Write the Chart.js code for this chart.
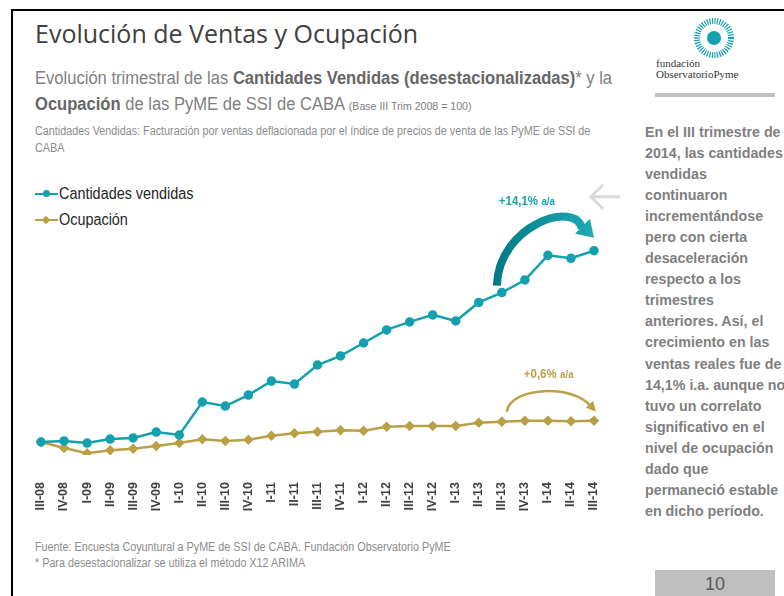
<!DOCTYPE html>
<html>
<head>
<meta charset="utf-8">
<script src="https://cdn.jsdelivr.net/npm/chart.js@4.4.1/dist/chart.umd.min.js"></script>
<style>
  body { margin: 0; width: 784px; height: 596px; overflow: hidden; background: #fff; position: relative; font-family: 'Liberation Sans', Arial, sans-serif; }
  .frame { position: absolute; left: 11px; top: 9px; width: 800px; height: 600px; border-top: 2px solid #000; border-left: 2px solid #000; }
  .n { transform-origin: left top; white-space: nowrap; }
  .title { position: absolute; left: 35px; top: 16px; font-family: 'Open Sans', sans-serif; font-size: 25px; color: #404040; white-space: nowrap; }
  .sub { position: absolute; left: 35px; top: 65px; font-size: 18px; color: #7f7f7f; line-height: 26px; transform: scaleX(0.92); }
  .sub b { color: #666; }
  .sub small { font-size: 11.5px; }
  .note { position: absolute; left: 35px; top: 123px; font-size: 12px; color: #8c8c8c; line-height: 17px; transform: scaleX(0.9); }
  .legend { position: absolute; left: 35px; top: 181px; font-size: 16px; color: #262626; }
  .legend div { height: 26px; display: flex; align-items: center; }
  .legend span { display: inline-block; transform: scaleX(0.9); transform-origin: left center; white-space: nowrap; }
  .legend i { display: inline-block; width: 23px; height: 2.5px; position: relative; margin-right: 1px; }
  .legend i::after { content: ''; position: absolute; left: 8px; top: -3px; width: 7px; height: 7px; border-radius: 50%; background: inherit; }
  .legend i.d::after { border-radius: 0; transform: rotate(45deg); width: 6px; height: 6px; top: -2px; }
  .side { position: absolute; left: 645px; top: 121px; font-size: 15.5px; font-weight: bold; color: #7f7f7f; line-height: 21.05px; transform: scaleX(0.92); }
  .foot { position: absolute; left: 35px; top: 539px; font-size: 12px; color: #8c8c8c; line-height: 16px; transform: scaleX(0.898); }
  .page { position: absolute; left: 655px; top: 570px; width: 120px; height: 30px; background: #bfbfbf; color: #595959; font-size: 18px; text-align: center; line-height: 28px; }
  .logo { position: absolute; left: 650px; top: 18px; width: 130px; height: 80px; }
  .logo .t { position: absolute; left: 6px; top: 40px; font-family: 'Liberation Serif', 'DejaVu Serif', serif; font-size: 11px; color: #333; line-height: 11px; }
  .logo .bar { position: absolute; left: 5px; top: 75px; width: 120px; height: 4px; background: #bfbfbf; }
  #wrap { position: absolute; left: 20px; top: 170px; width: 610px; height: 360px; }
</style>
</head>
<body>
<div class="frame"></div>
<div class="title">Evolución de Ventas y Ocupación</div>
<div class="sub n">Evolución trimestral de las <b>Cantidades Vendidas (desestacionalizadas)</b>* y la<br><b>Ocupación</b> de las PyME de SSI de CABA <small>(Base III Trim 2008 = 100)</small></div>
<div class="note n">Cantidades Vendidas: Facturación por ventas deflacionada por el índice de precios de venta de las PyME de SSI de<br>CABA</div>
<div class="legend">
  <div><i style="background:#14a0ad"></i><span>Cantidades vendidas</span></div>
  <div><i class="d" style="background:#b9a046"></i><span>Ocupación</span></div>
</div>
<div class="logo">
  <svg width="130" height="42" style="position:absolute;left:0;top:0">
    <circle cx="64" cy="20" r="17" fill="none" stroke="#14a0ad" stroke-width="6" stroke-dasharray="1.2 1.3"/>
    <circle cx="64" cy="20" r="7" fill="#14a0ad"/>
  </svg>
  <div class="t">fundación<br>ObservatorioPyme</div>
  <div class="bar"></div>
</div>
<div class="side n">En el III trimestre de<br>2014, las cantidades<br>vendidas<br>continuaron<br>incrementándose<br>pero con cierta<br>desaceleración<br>respecto a los<br>trimestres<br>anteriores. Así, el<br>crecimiento en las<br>ventas reales fue de<br>14,1% i.a. aunque no<br>tuvo un correlato<br>significativo en el<br>nivel de ocupación<br>dado que<br>permaneció estable<br>en dicho período.</div>
<div class="foot n">Fuente: Encuesta Coyuntural a PyME de SSI de CABA. Fundación Observatorio PyME<br>* Para desestacionalizar se utiliza el método X12 ARIMA</div>
<div class="page">10</div>
<div id="wrap"><canvas id="chart"></canvas></div>
<script>
const quarters = ['III-08', 'IV-08', 'I-09', 'II-09', 'III-09', 'IV-09', 'I-10', 'II-10', 'III-10', 'IV-10',
  'I-11', 'II-11', 'III-11', 'IV-11', 'I-12', 'II-12', 'III-12', 'IV-12', 'I-13', 'II-13', 'III-13', 'IV-13',
  'I-14', 'II-14', 'III-14'];
const ventas = [100, 100.7, 99.3, 102.0, 102.7, 106.7, 104.7, 126.9, 124.2, 131.6, 141.0, 139.0, 151.8, 157.9,
  166.6, 175.4, 180.8, 185.5, 181.4, 193.9, 200.5, 209.0, 225.6, 223.6, 228.7];
const ocupacion = [100, 96.0, 92.4, 94.4, 95.5, 97.3, 99.3, 101.8, 100.7, 101.5, 104.2, 105.9, 106.9, 107.9,
  107.6, 110.3, 110.8, 110.8, 110.8, 113.0, 113.7, 114.3, 114.3, 113.9, 114.3];
const teal = '#14a0ad';
const gold = '#b9a046';
const narrow = '"Liberation Sans", Arial, sans-serif';

// texto "+x% a/a" con la parte a/a más chica
function rateLabel(ctx, txt, x, y, color) {
  ctx.fillStyle = color;
  ctx.textAlign = 'left';
  ctx.font = 'bold 13px ' + narrow;
  ctx.save();
  ctx.translate(x, y);
  ctx.scale(0.88, 1);
  ctx.fillText(txt, 0, 0);
  const w = ctx.measureText(txt).width;
  ctx.font = 'bold 11px ' + narrow;
  ctx.fillText('a/a', w + 4, 0);
  ctx.restore();
}

// flechas y etiquetas de variación interanual
const arrows = {
  id: 'arrows',
  afterDatasetsDraw(chart) {
    const { ctx, scales: { x, y } } = chart;
    const x0 = x.getPixelForValue(20), x1 = x.getPixelForValue(24);
    const yv = y.getPixelForValue(ventas[20]);
    const yv1 = y.getPixelForValue(ventas[24]);
    const yo = y.getPixelForValue(ocupacion[24]);
    ctx.save();
    // ventas
    const g = ctx.createLinearGradient(x0 - 8, 0, x1, 0);
    g.addColorStop(0, '#007a84');
    g.addColorStop(1, '#1eaab6');
    ctx.strokeStyle = g;
    ctx.fillStyle = g;
    ctx.lineWidth = 8;
    ctx.beginPath();
    ctx.moveTo(x0 - 5, yv - 7);
    ctx.bezierCurveTo(x0 - 3, yv - 68, x0 + 74, yv - 93, x1 - 12, yv1 - 22);
    ctx.stroke();
    ctx.beginPath();
    ctx.moveTo(x1, yv1 - 13);
    ctx.lineTo(x1 - 19, yv1 - 17);
    ctx.lineTo(x1 - 4, yv1 - 32);
    ctx.closePath();
    ctx.fill();
    rateLabel(ctx, '+14,1%', x0 - 3, yv - 88, teal);
    // ocupación
    ctx.strokeStyle = gold;
    ctx.fillStyle = gold;
    ctx.lineWidth = 2.5;
    ctx.beginPath();
    ctx.moveTo(x0 + 5, yo - 9);
    ctx.bezierCurveTo(x0 + 8, yo - 34, x1 - 20, yo - 37, x1 - 3, yo - 14);
    ctx.stroke();
    ctx.beginPath();
    ctx.moveTo(x1 + 2, yo - 9);
    ctx.lineTo(x1 - 8, yo - 13);
    ctx.lineTo(x1 - 1, yo - 20);
    ctx.closePath();
    ctx.fill();
    rateLabel(ctx, '+0,6%', x0 + 22, yo - 43, gold);
    // flecha gris
    ctx.strokeStyle = '#d9d9d9';
    ctx.lineWidth = 3;
    ctx.beginPath();
    ctx.moveTo(x1 + 26, yv1 - 54);
    ctx.lineTo(x1 - 3, yv1 - 54);
    ctx.moveTo(x1 + 9, yv1 - 66);
    ctx.lineTo(x1 - 3, yv1 - 54);
    ctx.lineTo(x1 + 9, yv1 - 42);
    ctx.stroke();
    ctx.restore();
  }
};

new Chart(document.getElementById('chart'), {
  type: 'line',
  data: {
    labels: quarters,
    datasets: [
      {
        label: 'Cantidades vendidas',
        data: ventas,
        borderColor: teal,
        backgroundColor: teal,
        borderWidth: 2.5,
        pointRadius: 3.5,
        pointStyle: 'circle',
        tension: 0,
      },
      {
        label: 'Ocupación',
        data: ocupacion,
        borderColor: gold,
        backgroundColor: gold,
        borderWidth: 2.5,
        pointRadius: 3.5,
        pointStyle: 'rectRot',
        tension: 0,
      },
    ],
  },
  options: {
    responsive: true,
    maintainAspectRatio: false,
    animation: false,
    layout: { padding: { left: 21, right: 36, top: 70, bottom: 0 } },
    plugins: { legend: { display: false }, tooltip: { enabled: false } },
    scales: {
      x: {
        offset: false,
        grid: { display: false },
        border: { display: false },
        ticks: {
          maxRotation: 90,
          minRotation: 90,
          autoSkip: false,
          padding: 19,
          color: '#404040',
          font: { family: narrow, size: 12.5, weight: 'bold' },
        },
        afterFit: (s) => { s.height = 75; },
      },
      y: { display: false, min: 91.25, max: 235.9 },
    },
  },
  plugins: [arrows],
});
</script>
</body>
</html>
